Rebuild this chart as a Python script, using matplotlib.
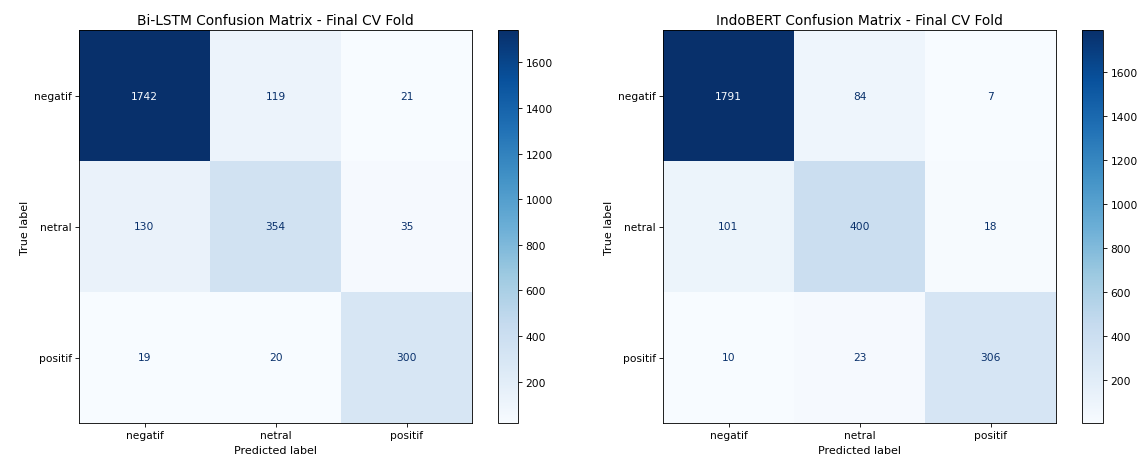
import numpy as np
import matplotlib
matplotlib.use("Agg")
import matplotlib.pyplot as plt

labels = ["negatif", "netral", "positif"]

bilstm_cm = [
    [1742, 119, 21],
    [130, 354, 35],
    [19, 20, 300],
]

indobert_cm = [
    [1791, 84, 7],
    [101, 400, 18],
    [10, 23, 306],
]

titles = [
    "Bi-LSTM Confusion Matrix - Final CV Fold",
    "IndoBERT Confusion Matrix - Final CV Fold",
]

W, H = 1145, 462
fig = plt.figure(figsize=(15, 15 * H / W), dpi=W / 15)


def px_rect(x0, y0, x1, y1):
    return [x0 / W, (H - y1) / H, (x1 - x0) / W, (y1 - y0) / H]


layout = [
    (px_rect(79, 31, 472, 424), px_rect(498, 31, 518, 424)),
    (px_rect(663, 31, 1056, 424), px_rect(1082, 31, 1103, 424)),
]

cmap = plt.get_cmap("Blues")

for cm, title, (ax_rect, cb_rect) in zip([bilstm_cm, indobert_cm], titles, layout):
    cm = np.array(cm)
    ax = fig.add_axes(ax_rect)
    cax = fig.add_axes(cb_rect)
    im = ax.imshow(cm, cmap=cmap, interpolation="nearest", aspect="auto")
    vmin, vmax = cm.min(), cm.max()
    thresh = (vmax + vmin) / 2.0
    for i in range(cm.shape[0]):
        for j in range(cm.shape[1]):
            color = cmap(0.0) if cm[i, j] > thresh else cmap(1.0)
            ax.text(j, i, f"{cm[i, j]}", ha="center", va="center", color=color)
    ax.set_xticks(range(len(labels)))
    ax.set_yticks(range(len(labels)))
    ax.set_xticklabels(labels)
    ax.set_yticklabels(labels)
    ax.set_xlabel("Predicted label", fontsize=10.5)
    ax.set_ylabel("True label", fontsize=10.5)
    ax.set_title(title, fontsize=13)
    fig.colorbar(im, cax=cax)

fig.savefig("out.png", dpi=W / 15)
